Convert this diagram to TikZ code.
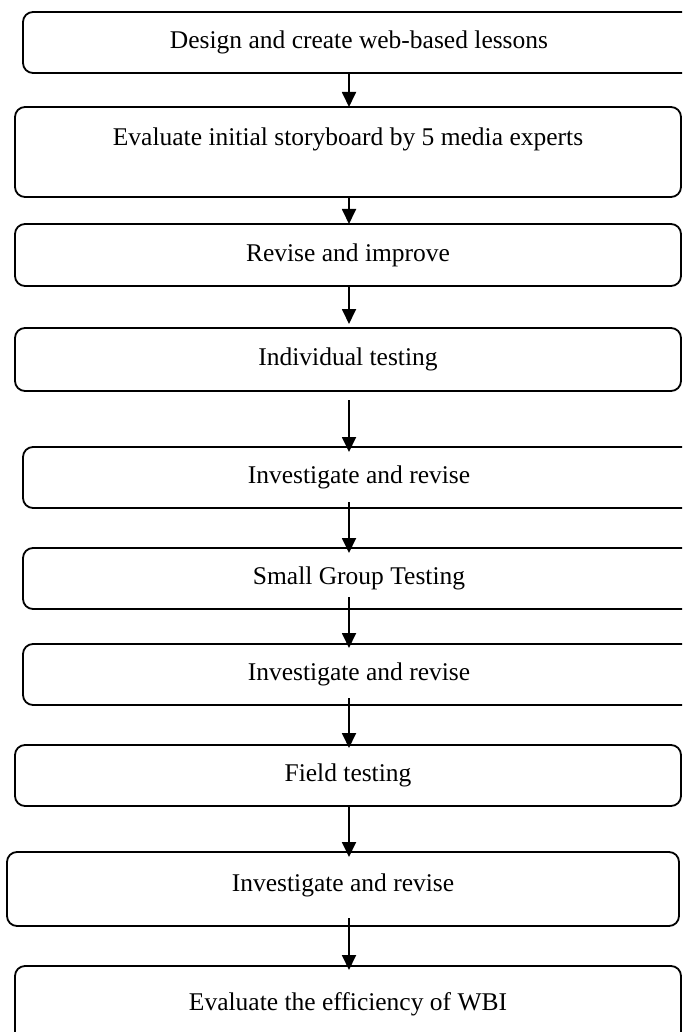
\documentclass[tikz,border=0pt]{standalone}
\usepackage{fontspec}
\setmainfont{Liberation Serif}
\usetikzlibrary{arrows.meta,calc}
\begin{document}
\begin{tikzpicture}[x=1pt,y=-1pt,
  box/.style={draw=black,line width=1.8pt,rounded corners=10pt,inner sep=0pt,outer sep=0pt,
    anchor=north west,align=center,text height=18pt,text depth=6pt,
    font=\fontsize{25.5}{30}\selectfont},
  arr/.style={line width=1.8pt,-{Triangle[length=15pt,width=14pt]}}]
\fill[white] (0,0) rectangle (682,1032);
\useasboundingbox (0,0) rectangle (682,1032);
\clip (0,0) rectangle (682,1032);
\coordinate (ax) at (349,0);
\node[box,minimum width=672pt,minimum height=61pt] (b1) at (23,12) {Design and create web-based lessons};
\node[box,minimum width=666pt,minimum height=90pt,text depth=31pt] (b2) at (15,107) {Evaluate initial storyboard by 5 media experts};
\node[box,minimum width=666pt,minimum height=62pt] (b3) at (15,224) {Revise and improve};
\node[box,minimum width=666pt,minimum height=63pt] (b4) at (15,328) {Individual testing};
\node[box,minimum width=672pt,minimum height=61pt] (b5) at (23,447) {Investigate and revise};
\node[box,minimum width=672pt,minimum height=61pt] (b6) at (23,548) {Small Group Testing};
\node[box,minimum width=672pt,minimum height=61pt] (b7) at (23,644) {Investigate and revise};
\node[box,minimum width=666pt,minimum height=61pt] (b8) at (15,745) {Field testing};
\node[box,minimum width=672pt,minimum height=74pt,text depth=13pt] (b9) at (7,852) {Investigate and revise};
\node[box,minimum width=666pt,minimum height=76pt] (b10) at (15,966) {Evaluate the efficiency of WBI};
\draw[arr] (b1.south -| ax) -- (b2.north -| ax);
\draw[arr] (b2.south -| ax) -- (b3.north -| ax);
\draw[arr] (b3.south -| ax) -- ($(b4.north -| ax)+(0,-4)$);
\draw[arr] ($(b4.south -| ax)+(0,9)$) -- ($(b5.north -| ax)+(0,5)$);
\draw[arr] ($(b5.south -| ax)+(0,-6)$) -- ($(b6.north -| ax)+(0,5)$);
\draw[arr] ($(b6.south -| ax)+(0,-12)$) -- ($(b7.north -| ax)+(0,4)$);
\draw[arr] ($(b7.south -| ax)+(0,-7)$) -- ($(b8.north -| ax)+(0,3)$);
\draw[arr] ($(b8.south -| ax)+(0,-1)$) -- ($(b9.north -| ax)+(0,5)$);
\draw[arr] ($(b9.south -| ax)+(0,-8)$) -- ($(b10.north -| ax)+(0,4)$);
\end{tikzpicture}
\end{document}
